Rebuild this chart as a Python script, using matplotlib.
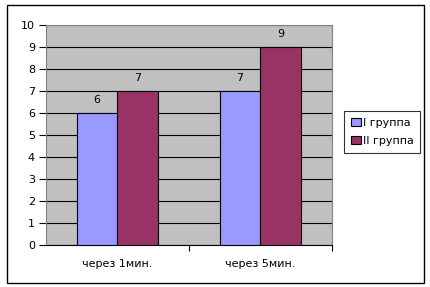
import matplotlib
matplotlib.use("Agg")
import matplotlib.pyplot as plt
import numpy as np
from matplotlib.patches import Rectangle

categories = ["через 1мин.", "через 5мин."]
series_names = ["I группа", "II группа"]
group1 = [6, 7]
group2 = [7, 9]
colors = ["#9999FF", "#993366"]

plt.rcParams['font.family'] = ['DejaVu Sans']
FS = 8

W, H = 431, 287
fig = plt.figure(figsize=(W/100, H/100), dpi=100)
fig.patch.set_facecolor("white")

# outer chart border
fig.add_artist(Rectangle((7/W, 1 - 283/H), (424-7)/W, (283-5)/H, transform=fig.transFigure,
                         fill=False, edgecolor="black", linewidth=1.0))

ax = fig.add_axes([46/W, 1 - 245/H, (332-46)/W, (245-25)/H])
ax.set_facecolor("#C0C0C0")

x = np.arange(len(categories))
gap = 1.5
bw = 1 / (2 + gap)
vals = [group1, group2]
bars = []
for i, (name, v, c) in enumerate(zip(series_names, vals, colors)):
    pos = x + (i - 0.5) * bw
    b = ax.bar(pos, v, width=bw, color=c, edgecolor="black", linewidth=0.8, label=name, zorder=3)
    bars.append(b)
    for p, val in zip(pos, v):
        ax.text(p, val + 0.6, str(val), ha="center", va="center", fontsize=FS, zorder=4)

ax.set_xlim(-0.5, 1.5)
ax.set_ylim(0, 10)
ax.set_yticks(range(0, 11))
ax.yaxis.grid(True, color="black", linewidth=0.8, zorder=1)
ax.set_axisbelow(True)
ax.set_xticks([0.5, 1.5], minor=False)
ax.set_xticklabels(["", ""])
ax.set_xticks(x, minor=True)
ax.set_xticklabels(categories, minor=True)
ax.tick_params(axis="x", which="minor", length=0, pad=10, labelsize=FS)
ax.tick_params(axis="x", which="major", length=4, direction="out", width=0.8)
ax.tick_params(axis="y", length=5, direction="out", width=0.8, labelsize=FS, pad=3)
ax.spines["left"].set_color("#808080")
ax.spines["bottom"].set_color("black")
ax.spines["right"].set_color("#808080")
ax.spines["top"].set_color("#808080")

leg = fig.legend(handles=[b[0] for b in bars], labels=series_names,
                 loc="upper left", bbox_to_anchor=(344/W, 1 - 111/H),
                 fontsize=FS, frameon=True, fancybox=False, edgecolor="black",
                 handlelength=0.9, handleheight=0.7, handletextpad=0.2,
                 borderpad=0.6, labelspacing=0.75, borderaxespad=0)
leg.get_frame().set_linewidth(0.8)

fig.savefig("out.png", dpi=100)
